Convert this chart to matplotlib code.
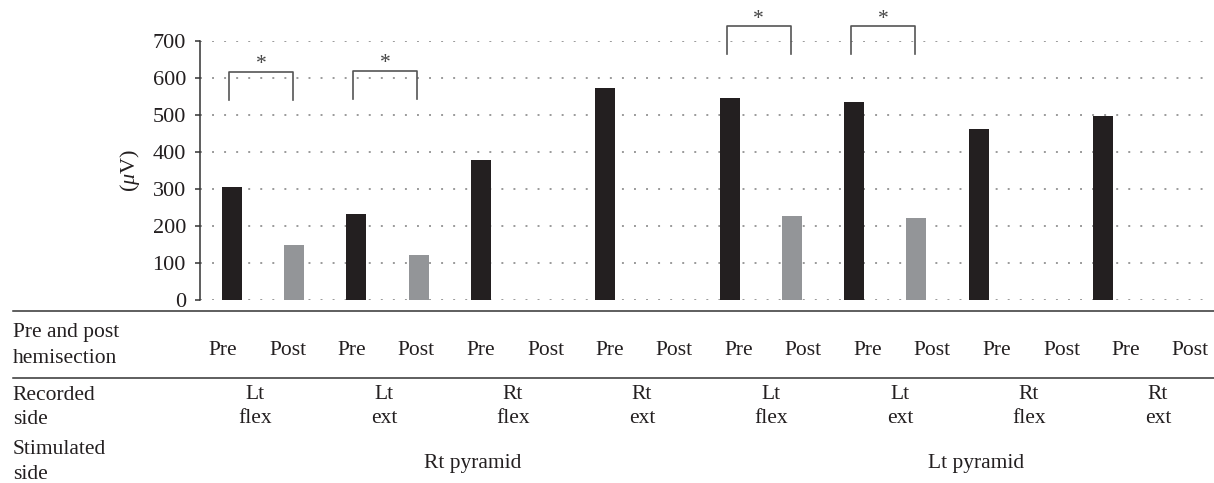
import matplotlib
matplotlib.use("Agg")
import matplotlib.pyplot as plt
from matplotlib.lines import Line2D

plt.rcParams["font.family"] = ["Liberation Serif", "DejaVu Serif"]
plt.rcParams["mathtext.fontset"] = "custom"
plt.rcParams["mathtext.rm"] = "Liberation Serif"
plt.rcParams["mathtext.it"] = "Liberation Serif:italic"

# data
recorded = ["Lt\nflex", "Lt\next", "Rt\nflex", "Rt\next",
            "Lt\nflex", "Lt\next", "Rt\nflex", "Rt\next"]
stimulated = ["Rt pyramid", "Lt pyramid"]
pre_vals = [304, 232, 377, 572, 545, 534, 461, 496]
post_vals = [148, 121, None, None, 226, 221, None, None]
# significance brackets: (pair index, top, bottom, star)
sig = [(0, 616, 540, 653), (1, 619, 542, 655), (4, 741, 663, 774), (5, 741, 663, 774)]
yticks = [0, 100, 200, 300, 400, 500, 600, 700]

W, H = 1214, 483
FS = 15.5
TXT = "#231f20"
fig = plt.figure(figsize=(W / 100, H / 100), dpi=100)
ax = fig.add_axes([200 / W, 1 - 299.7 / H, 1012 / W, 259 / H])

pre_x = [2 * i for i in range(8)]
post_x = [2 * i + 1 for i in range(8)]
ax.bar(pre_x, pre_vals, width=0.32, color="#231f20", zorder=3)
for x, v in zip(post_x, post_vals):
    if v is not None:
        ax.bar(x, v, width=0.32, color="#939598", zorder=3)

for g, top, bot, star in sig:
    x0, x1 = 2 * g - 0.05, 2 * g + 1 - 0.02
    ax.plot([x0, x0, x1, x1], [bot, top, top, bot], color="#555555",
            lw=1.2, clip_on=False, zorder=4)
    # asterisk glyph sits about half an em above its baseline
    ax.text((x0 + x1) / 2, star - 30, "*", ha="center", va="baseline",
            fontsize=FS, color="#444444", clip_on=False)

ax.set_xlim(-0.514, 15.75)
ax.set_ylim(0, 700)
ax.set_yticks(yticks)
for y in yticks:
    ax.axhline(y, color="#9a9a9a", lw=1.4, ls=(0, (1, 5.2)), zorder=1,
               dash_capstyle="butt")
ax.set_xticks([])
for s in ["top", "right", "bottom"]:
    ax.spines[s].set_visible(False)
ax.spines["left"].set_color("#333333")
ax.spines["left"].set_linewidth(1.1)
ax.tick_params(axis="y", direction="out", length=3.6, width=1.1,
               color="#333333", pad=6.5, labelsize=FS + 0.5, labelcolor=TXT)
ax.text(-0.069, 0.5, r"($\mu$V)", transform=ax.transAxes, rotation=90,
        ha="center", va="center", fontsize=FS + 0.5, color=TXT)

# table below the chart
def ftext(x, y, s, ha="center"):
    fig.text(x / W, 1 - y / H, s, ha=ha, va="baseline", fontsize=FS,
             color=TXT)

for yy in [311, 377.7]:
    fig.add_artist(Line2D([12.7 / W, 1], [1 - yy / H, 1 - yy / H],
                          color="#333333", lw=1.1))

ftext(12.7, 336.7, "Pre and post", ha="left")
ftext(12.7, 362.7, "hemisection", ha="left")
ftext(12.7, 400, "Recorded", ha="left")
ftext(12.7, 424, "side", ha="left")
ftext(12.7, 454, "Stimulated", ha="left")
ftext(12.7, 479, "side", ha="left")

for i in range(16):
    ftext(223 + 64.5 * i, 355, "Pre" if i % 2 == 0 else "Post")

for k, lab in enumerate(recorded):
    top_line, bot_line = lab.split("\n")
    cx = 255 + 129 * k
    ftext(cx, 399, top_line)
    ftext(cx, 423, bot_line)

ftext(473, 468, stimulated[0])
ftext(976, 468, stimulated[1])

fig.savefig("out.png", dpi=100)
